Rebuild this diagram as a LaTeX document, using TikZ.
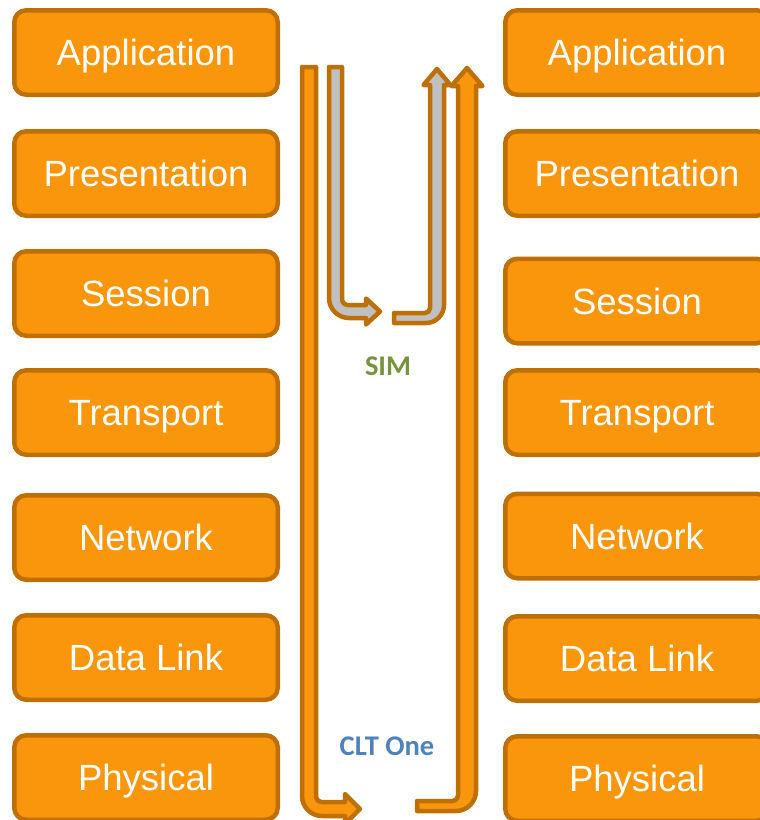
\documentclass[tikz,border=0pt]{standalone}
\usepackage{fontspec}
\setmainfont{Liberation Sans}
\newfontfamily\labelfont{Carlito}
\definecolor{layerfill}{RGB}{249,150,12}
\definecolor{layeredge}{RGB}{190,112,6}
\definecolor{pathgray}{RGB}{192,192,192}
\definecolor{simgreen}{RGB}{119,147,60}
\definecolor{cltblue}{RGB}{79,129,189}
\tikzset{
  layerbox/.style={draw=layeredge, fill=layerfill, line width=4.5pt,
    rounded corners=12pt, minimum width=263.5pt, minimum height=84.5pt,
    inner sep=0pt, text=white, font=\fontsize{36.5}{40}\selectfont,
    text height=26.1pt, text depth=0pt},
  flowarrow/.style={draw=layeredge, fill=layerfill, line width=4.5pt, line join=round},
  simarrow/.style={flowarrow, fill=pathgray},
  tag/.style={font=\labelfont\bfseries\fontsize{28.5}{30}\selectfont,
    text height=18.3pt, text depth=0pt, inner sep=0pt}
}
\begin{document}
\begin{tikzpicture}[x=1pt,y=-1pt]
\useasboundingbox (0,0) rectangle (760,820);
\clip (0,0) rectangle (760,820);

% left protocol stack
\node[layerbox] (la) at (146,52.5)  {Application};
\node[layerbox] (lp) at (146,173.5) {Presentation};
\node[layerbox] (ls) at (146,293.5) {Session};
\node[layerbox] (lt) at (146,412.5) {Transport};
\node[layerbox] (ln) at (146,537.5) {Network};
\node[layerbox] (ld) at (146,657.5) {Data Link};
\node[layerbox] (lh) at (146,777.5) {Physical};

% right protocol stack
\node[layerbox] (ra) at (637,52.5)  {Application};
\node[layerbox] (rp) at (637,173.5) {Presentation};
\node[layerbox] (rs) at (637,301)   {Session};
\node[layerbox] (rt) at (637,412.5) {Transport};
\node[layerbox] (rn) at (637,536)   {Network};
\node[layerbox] (rd) at (637,658.5) {Data Link};
\node[layerbox] (rh) at (637,778.5) {Physical};

% SIM path: down to session level, across, back up
\draw[simarrow] (329,67) -- (342,67) -- (342,299)
  .. controls (342,302.3) and (344.7,305) .. (348,305) -- (366,305) -- (366,298.5)
  -- (380,311.5) -- (366,324.5) -- (366,318) -- (349,318)
  .. controls (338,318) and (329,309) .. (329,298) -- cycle;
\draw[simarrow] (394,313) -- (425,313)
  .. controls (427.8,313) and (430,310.8) .. (430,308) -- (430,85) -- (423.5,85)
  -- (437,69) -- (450.5,85) -- (444,85) -- (444,305)
  .. controls (444,314.9) and (435.9,323) .. (426,323) -- (394,323) -- cycle;

% CLT One path: down through all layers, across, back up
\draw[flowarrow] (302,67) -- (316,67) -- (316,796)
  .. controls (316,799.3) and (318.7,802) .. (322,802) -- (345,802) -- (345,794)
  -- (360,809) -- (345,824) -- (345,816) -- (322,816)
  .. controls (311,816) and (302,807) .. (302,796) -- cycle;
\draw[flowarrow] (417,801) -- (452,801)
  .. controls (455.3,801) and (458,798.3) .. (458,795) -- (458,86) -- (451.5,86)
  -- (467,68) -- (482.5,86) -- (476,86) -- (476,791)
  .. controls (476,802) and (467,811) .. (456,811) -- (417,811) -- cycle;

% path labels
\node[tag, text=simgreen] (sim) at (388,366) {SIM};
\node[tag, text=cltblue] (clt) at (387,746) {CLT One};
\end{tikzpicture}
\end{document}
